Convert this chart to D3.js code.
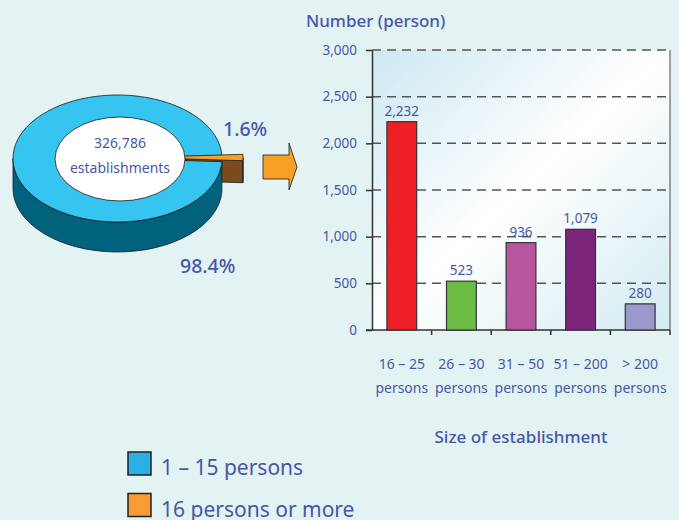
<!DOCTYPE html>
<html>
<head>
<meta charset="utf-8">
<script src="https://cdn.jsdelivr.net/npm/d3@7"></script>
<style>
  html, body { margin: 0; padding: 0; background: #e3f3f3; }
  svg { display: block; font-family: 'Noto Sans', 'Open Sans', sans-serif; }
</style>
</head>
<body>
<div id="chart"></div>
<script>
const width = 679;
const height = 520;
const textColor = '#4757a8';

// pie: share of establishments
const pieLabels = ['1 – 15 persons', '16 persons or more'];
const pieValues = [98.4, 1.6];
const pieTop = ['#36c4f0', '#f7a023'];
const pieSide = ['#00627c', '#7b4a1f'];
const legendColors = ['#2aaee5', '#f99b36'];
const totalLabel = ['326,786', 'establishments'];

// bars: number of establishments with 16+ persons
const categories = ['16 – 25', '26 – 30', '31 – 50', '51 – 200', '> 200'];
const values = [2232, 523, 936, 1079, 280];
const barColors = ['#ee2026', '#6bbd45', '#b7559f', '#7c2479', '#9b98cb'];
const yTicks = [0, 500, 1000, 1500, 2000, 2500, 3000];

const svg = d3.select('#chart')
  .append('svg')
  .attr('width', width)
  .attr('height', height);

svg.append('rect')
  .attr('width', width)
  .attr('height', height)
  .attr('fill', '#e3f3f3');

const defs = svg.append('defs');
const grad = defs.append('linearGradient')
  .attr('id', 'plotbg')
  .attr('x1', 0).attr('y1', 0).attr('x2', 1).attr('y2', 1);
grad.append('stop').attr('offset', 0).attr('stop-color', '#cde8f1');
grad.append('stop').attr('offset', 0.5).attr('stop-color', '#ffffff');
grad.append('stop').attr('offset', 1).attr('stop-color', '#d2ebf2');

// ---------- 3D pie ----------
const cx = 117.5, cy = 158.5, rx = 104.5, ry = 63.5;
const depths = [30, 22];
const explode = [[0, 0], [21, -1]];

const pie = d3.pie()
  .sort(null)
  .startAngle(Math.PI / 2 + pieValues[1] / 100 * Math.PI)
  .endAngle(Math.PI / 2 + pieValues[1] / 100 * Math.PI + 2 * Math.PI);
const arcs = pie(pieValues);

function pt(a, ox, oy, dz) {
  return [cx + ox + rx * Math.sin(a), cy + oy - ry * Math.cos(a) + (dz || 0)];
}

function topPath(d, i) {
  const [ox, oy] = explode[i];
  const p0 = pt(d.startAngle, ox, oy);
  const p1 = pt(d.endAngle, ox, oy);
  const large = d.endAngle - d.startAngle > Math.PI ? 1 : 0;
  return 'M' + (cx + ox) + ',' + (cy + oy) + 'L' + p0 + 'A' + rx + ',' + ry + ' 0 ' + large + ' 1 ' + p1 + 'Z';
}

// front rim of a slice, only the part facing the viewer
function rimPath(d, i) {
  const [ox, oy] = explode[i];
  const dz = depths[i];
  let paths = '';
  for (let k = 0; k < 3; k++) {
    const lo = Math.PI / 2 + k * 2 * Math.PI;
    const hi = 3 * Math.PI / 2 + k * 2 * Math.PI;
    const s = Math.max(lo, d.startAngle);
    const e = Math.min(hi, d.endAngle);
    if (e <= s) continue;
    const a = pt(s, ox, oy), b = pt(e, ox, oy);
    const b2 = pt(e, ox, oy, dz), a2 = pt(s, ox, oy, dz);
    paths += 'M' + a + 'A' + rx + ',' + ry + ' 0 0 1 ' + b + 'L' + b2 +
      'A' + rx + ',' + ry + ' 0 0 0 ' + a2 + 'Z';
  }
  return paths;
}

// radial cut face at the clockwise end of a slice
function cutPath(d, i) {
  const [ox, oy] = explode[i];
  const dz = depths[i];
  const p = pt(d.endAngle, ox, oy);
  const c = [cx + ox, cy + oy];
  return 'M' + c + 'L' + p + 'L' + [p[0], p[1] + dz] + 'L' + [c[0], c[1] + dz] + 'Z';
}

const pieG = svg.append('g')
  .attr('stroke', '#1b1b1b')
  .attr('stroke-width', 0.8)
  .attr('stroke-linejoin', 'round');

// back to front: small slice sides, big slice side, big top, small top
pieG.append('path').attr('d', cutPath(arcs[1], 1)).attr('fill', pieSide[1]);
pieG.append('path').attr('d', rimPath(arcs[1], 1)).attr('fill', pieSide[1]);
pieG.append('path').attr('d', rimPath(arcs[0], 0)).attr('fill', pieSide[0]);
pieG.append('path').attr('d', topPath(arcs[0], 0)).attr('fill', pieTop[0]);
pieG.append('path').attr('d', topPath(arcs[1], 1)).attr('fill', pieTop[1]);

svg.append('ellipse')
  .attr('cx', 120).attr('cy', 159)
  .attr('rx', 65).attr('ry', 42)
  .attr('fill', '#ffffff')
  .attr('stroke', '#1b1b1b')
  .attr('stroke-width', 0.8);

svg.selectAll('text.total')
  .data(totalLabel)
  .enter().append('text')
  .attr('class', 'total')
  .attr('x', 120)
  .attr('y', (d, i) => 148 + i * 25)
  .attr('text-anchor', 'middle')
  .attr('font-size', 14)
  .attr('fill', textColor)
  .text(d => d);

svg.append('text')
  .attr('x', 223).attr('y', 136)
  .attr('font-size', 19.5)
  .attr('font-weight', 500)
  .attr('fill', textColor)
  .text(pieValues[1] + '%');

svg.append('text')
  .attr('x', 180).attr('y', 273)
  .attr('font-size', 19.5)
  .attr('font-weight', 500)
  .attr('fill', textColor)
  .text(pieValues[0] + '%');

// arrow pointing to the bar chart
svg.append('path')
  .attr('d', 'M263,155L289,155L289,143L297,167L289,190L289,179L263,179Z')
  .attr('fill', '#f7a023')
  .attr('stroke', '#1b1b1b')
  .attr('stroke-width', 0.8);

// ---------- bar chart ----------
const plot = {left: 372, right: 670, top: 50, bottom: 330};

const x = d3.scaleBand()
  .domain(categories)
  .range([plot.left, plot.right])
  .paddingInner(0.5)
  .paddingOuter(0.25);

const y = d3.scaleLinear()
  .domain([0, 3000])
  .range([plot.bottom, plot.top]);

svg.append('rect')
  .attr('x', plot.left).attr('y', plot.top)
  .attr('width', plot.right - plot.left)
  .attr('height', plot.bottom - plot.top)
  .attr('fill', 'url(#plotbg)');

// dashed grid
svg.append('g')
  .selectAll('line')
  .data(yTicks.filter(d => d > 0))
  .enter().append('line')
  .attr('x1', plot.left).attr('x2', plot.right)
  .attr('y1', d => y(d)).attr('y2', d => y(d))
  .attr('stroke', '#555')
  .attr('stroke-width', 1.5)
  .attr('stroke-dasharray', '9,6');

// right border
svg.append('line')
  .attr('x1', plot.right).attr('x2', plot.right)
  .attr('y1', plot.top).attr('y2', plot.bottom)
  .attr('stroke', '#666')
  .attr('stroke-width', 1.2);

const yAxis = svg.append('g')
  .attr('transform', 'translate(' + plot.left + ',0)')
  .call(d3.axisLeft(y).tickValues(yTicks).tickSize(6).tickSizeOuter(0).tickFormat(d3.format(',')));
yAxis.select('.domain').attr('stroke', '#333').attr('stroke-width', 1.5);
yAxis.selectAll('.tick line').attr('stroke', '#333').attr('stroke-width', 1.5);
yAxis.selectAll('.tick text')
  .attr('x', -15)
  .attr('fill', textColor)
  .attr('font-size', 13.5)
  .attr('font-family', "'Noto Sans', sans-serif");

// x axis with ticks at the band edges
const xAxisG = svg.append('g');
xAxisG.append('line')
  .attr('x1', plot.left - 6).attr('x2', plot.right)
  .attr('y1', plot.bottom).attr('y2', plot.bottom)
  .attr('stroke', '#333')
  .attr('stroke-width', 1.5);
xAxisG.selectAll('line.tk')
  .data(categories)
  .enter().append('line')
  .attr('class', 'tk')
  .attr('x1', d => x(d) + x.bandwidth() + x.step() * 0.25)
  .attr('x2', d => x(d) + x.bandwidth() + x.step() * 0.25)
  .attr('y1', plot.bottom).attr('y2', plot.bottom + 5)
  .attr('stroke', '#333')
  .attr('stroke-width', 1.5);

svg.selectAll('rect.bar')
  .data(values)
  .enter().append('rect')
  .attr('class', 'bar')
  .attr('x', (d, i) => x(categories[i]))
  .attr('y', d => y(d))
  .attr('width', x.bandwidth())
  .attr('height', d => y(0) - y(d))
  .attr('fill', (d, i) => barColors[i])
  .attr('stroke', '#333')
  .attr('stroke-width', 1.2);

svg.selectAll('text.val')
  .data(values)
  .enter().append('text')
  .attr('class', 'val')
  .attr('x', (d, i) => x(categories[i]) + x.bandwidth() / 2)
  .attr('y', d => y(d) - 6)
  .attr('text-anchor', 'middle')
  .attr('font-size', 13.5)
  .attr('fill', textColor)
  .text(d => d3.format(',')(d));

const xl = svg.selectAll('text.cat')
  .data(categories)
  .enter().append('text')
  .attr('class', 'cat')
  .attr('text-anchor', 'middle')
  .attr('font-size', 14)
  .attr('fill', textColor);
xl.append('tspan')
  .attr('x', d => x(d) + x.bandwidth() / 2)
  .attr('y', 369)
  .text(d => d);
xl.append('tspan')
  .attr('x', d => x(d) + x.bandwidth() / 2)
  .attr('y', 393)
  .text('persons');

svg.append('text')
  .attr('x', 306).attr('y', 27)
  .attr('font-size', 17)
  .attr('font-weight', 500)
  .attr('fill', textColor)
  .text('Number (person)');

svg.append('text')
  .attr('x', 521).attr('y', 443)
  .attr('text-anchor', 'middle')
  .attr('font-size', 17)
  .attr('font-weight', 500)
  .attr('fill', textColor)
  .text('Size of establishment');

// ---------- legend ----------
const legend = svg.selectAll('g.legend')
  .data(pieLabels)
  .enter().append('g')
  .attr('class', 'legend')
  .attr('transform', (d, i) => 'translate(128,' + (452 + i * 41.5) + ')');
legend.append('rect')
  .attr('width', 23).attr('height', 23)
  .attr('fill', (d, i) => legendColors[i])
  .attr('stroke', '#222')
  .attr('stroke-width', 1.5);
legend.append('text')
  .attr('x', 33).attr('y', 23)
  .attr('font-size', 21)
  .attr('fill', textColor)
  .text(d => d);
</script>
</body>
</html>
